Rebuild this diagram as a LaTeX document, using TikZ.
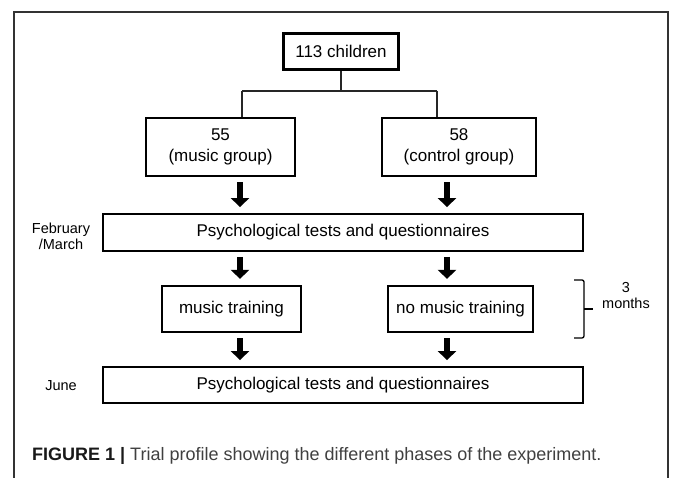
\documentclass[tikz,border=0pt]{standalone}
\usepackage{fontspec}
\setmainfont{Liberation Sans}
\usetikzlibrary{arrows.meta}
\tikzset{
  box/.style={draw=black, inner sep=0pt, align=center, font=\fontsize{17}{21}\selectfont},
  lbl/.style={inner sep=0pt, align=center, font=\fontsize{14.5}{16}\selectfont},
  conn/.style={draw=black!85, line width=1.2pt},
  fat/.style={line width=6pt, -{Triangle[width=18pt,length=9pt]}, shorten <=5pt, shorten >=6pt},
}
\begin{document}
\begin{tikzpicture}[x=1pt,y=-1pt]
\useasboundingbox (0,0) rectangle (673,478);
% outer frame
\draw[black!80, line width=1.1pt] (14,478) -- (14,12) -- (668,12) -- (668,478);
% boxes
\node[box, line width=2.6pt, minimum width=115pt, minimum height=36pt] (top) at (341,51.5) {113 children};
\node[box, line width=2.2pt, minimum width=149pt, minimum height=58pt] (b55) at (220.5,147) {55\\(music group)};
\node[box, line width=2.2pt, minimum width=154pt, minimum height=58pt] (b58) at (459,147) {58\\(control group)};
\node[box, line width=1.8pt, minimum width=480pt, minimum height=37pt] (feb) at (343,232.5) {Psychological tests and questionnaires};
\node[box, line width=2.2pt, minimum width=139pt, minimum height=46pt] (mt) at (231.5,309) {music training};
\node[box, line width=2.2pt, minimum width=145pt, minimum height=46pt] (nmt) at (460.5,309) {no music training};
\node[box, line width=1.8pt, minimum width=480pt, minimum height=36pt] (june) at (343,385) {Psychological tests and questionnaires};
% side labels
\node[lbl] (lfeb) at (61,236) {February\\/March};
\node[lbl] (ljune) at (61,386) {June};
\node[lbl] (lmon) at (626,296) {3\\months};
% tree connectors
\coordinate (j) at (341,91);
\coordinate (xl) at (242,0);
\coordinate (xr) at (437,0);
\draw[conn] (top.south) -- (j);
\draw[conn] (xl |- j) -- (xr |- j);
\draw[conn] (xl |- j) -- (xl |- b55.north);
\draw[conn] (xr |- j) -- (xr |- b58.north);
% thick arrows
\coordinate (al) at (240,0);
\coordinate (ar) at (447,0);
\draw[fat] (al |- b55.south) -- (al |- feb.north);
\draw[fat] (ar |- b58.south) -- (ar |- feb.north);
\draw[fat] (al |- feb.south) -- (al |- mt.north);
\draw[fat] (ar |- feb.south) -- (ar |- nmt.north);
\draw[fat] (al |- mt.south) -- (al |- june.north);
\draw[fat] (ar |- nmt.south) -- (ar |- june.north);
% brace
\coordinate (bt) at (574,280);
\coordinate (bb) at (574,338);
\coordinate (bm) at (584,309);
\coordinate (btip) at (593,309);
\draw[black, line width=1.3pt, rounded corners=2pt] (bt) -- (584,280) -- (584,338) -- (bb);
\draw[black, line width=1.3pt] (bm) -- (btip);
% caption
\node[anchor=west, inner sep=0pt, font=\fontsize{18}{20}\selectfont, text=black!75] (cap) at (32,456) {\textbf{\color{black!90}FIGURE 1 |} Trial profile showing the different phases of the experiment.};
\end{tikzpicture}
\end{document}
